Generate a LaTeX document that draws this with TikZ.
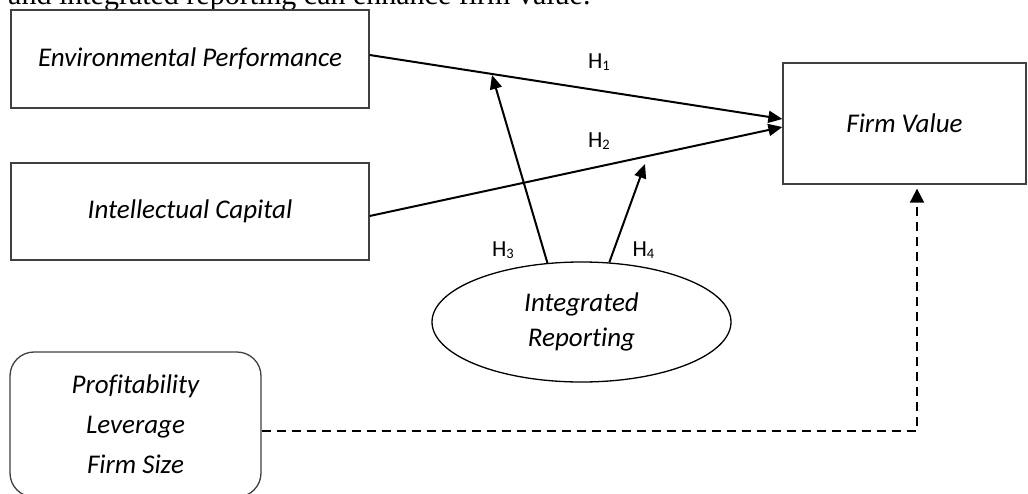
\documentclass[tikz,border=0pt]{standalone}
\usepackage{fontspec}
\setmainfont{Carlito}[Ligatures=NoCommon]
\newfontfamily\topfont{Liberation Serif}
\usetikzlibrary{arrows.meta,shapes.geometric}
\newcommand\hyp[1]{H\raisebox{-1.5pt}{\fontsize{14.5}{15}\selectfont #1}}
\begin{document}
\begin{tikzpicture}[x=1pt,y=-1pt,
  varbox/.style={draw=black!75,line width=1.3pt,inner sep=0pt,fill=white,
    font=\fontsize{27}{32}\selectfont\itshape},
  conn/.style={line width=2pt,-{Triangle[length=14pt,width=12pt]}},
  dconn/.style={line width=2pt,dash pattern=on 9pt off 6pt,-{Triangle[length=14pt,width=14pt]}},
  hlab/.style={inner sep=0pt,font=\fontsize{23}{26}\selectfont}]
\useasboundingbox (0,0) rectangle (1028,493);
\clip (0,0) rectangle (1028,493);
\node[anchor=base west,inner sep=0pt,font=\topfont\fontsize{30}{36}\selectfont] (top) at (8,4) {and integrated reporting can enhance firm value.};
\node[varbox,minimum width=358pt,minimum height=98pt] (env) at (190,59) {Environmental Performance};
\node[varbox,minimum width=358pt,minimum height=97pt] (ic) at (190,211.5) {Intellectual Capital};
\node[varbox,minimum width=243pt,minimum height=121pt] (fv) at (904.5,123.5) {Firm Value};
\node[ellipse,draw=black,line width=1.3pt,inner sep=0pt,minimum width=299pt,minimum height=120pt,align=center,font=\fontsize{27}{35}\selectfont\itshape] (ir) at (581.5,322) {Integrated\\Reporting};
\node[varbox,rounded corners=24pt,minimum width=251pt,minimum height=145pt,align=center,font=\fontsize{27}{40}\selectfont\itshape] (ctrl) at (135.5,424.5) {Profitability\\Leverage\\Firm Size};
\coordinate (h3tip) at (492,75);
\coordinate (h4tip) at (645,164);
\coordinate (dtip) at ([xshift=12.5pt,yshift=-4pt]fv.south);
\draw[conn] ([yshift=4pt]env.east) -- ([yshift=4.5pt]fv.west);
\draw[conn] ([yshift=-4.5pt]ic.east) -- ([yshift=-3.5pt]fv.west);
\draw[conn] (ir.120) -- (h3tip);
\draw[conn] (ir.65) -- (h4tip);
\draw[dconn] ([yshift=-6.5pt]ctrl.east) -| (dtip);
\node[hlab] (l1) at (599,62) {\hyp1};
\node[hlab] (l2) at (599,141) {\hyp2};
\node[hlab] (l3) at (503,250) {\hyp3};
\node[hlab] (l4) at (643.5,250) {\hyp4};
\end{tikzpicture}
\end{document}
